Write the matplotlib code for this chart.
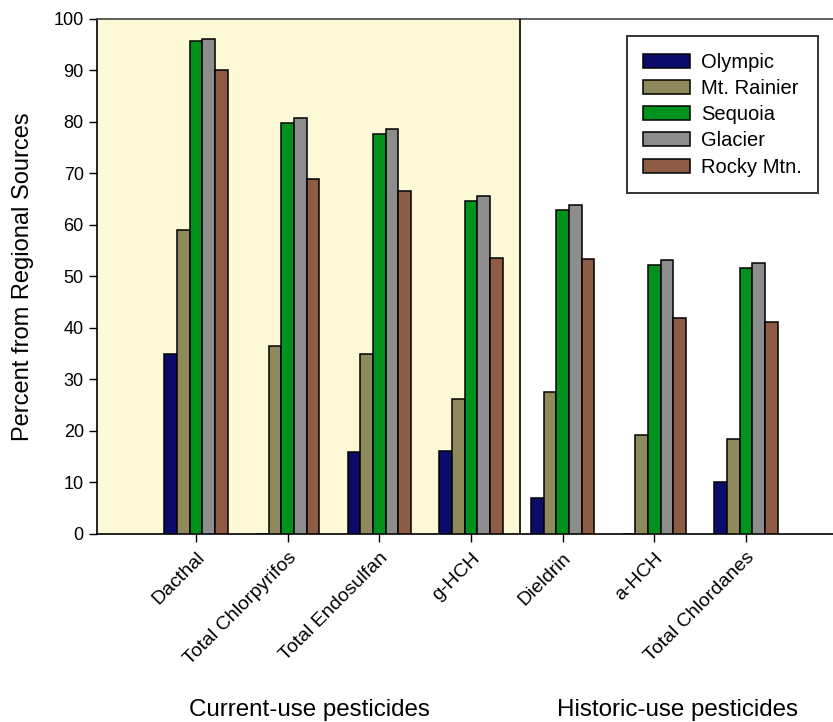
import matplotlib
matplotlib.use("Agg")
import matplotlib.pyplot as plt
import numpy as np

plt.rcParams["font.family"] = ["Liberation Sans", "DejaVu Sans"]

compounds = [
    "Dacthal",
    "Total Chlorpyrifos",
    "Total Endosulfan",
    "g-HCH",
    "Dieldrin",
    "a-HCH",
    "Total Chlordanes",
]
parks = ["Olympic", "Mt. Rainier", "Sequoia", "Glacier", "Rocky Mtn."]

olympic = [35.0, 0.0, 16.0, 16.2, 7.0, 0.0, 10.0]
mt_rainier = [59.0, 36.5, 35.0, 26.2, 27.6, 19.2, 18.5]
sequoia = [95.7, 79.8, 77.7, 64.6, 62.9, 52.2, 51.6]
glacier = [96.2, 80.7, 78.6, 65.6, 63.9, 53.2, 52.6]
rocky_mtn = [90.0, 69.0, 66.6, 53.6, 53.3, 42.0, 41.2]

group_labels = ["Current-use pesticides", "Historic-use pesticides"]
n_current = 4

colors = ["#0b0b6b", "#8f8a5b", "#00921c", "#8d8d8d", "#8e5b45"]

fig = plt.figure(figsize=(8.33, 7.22), dpi=100)
ax = fig.add_axes([0.1164, 0.2604, 0.8836, 0.7133])

x = np.arange(len(compounds))
width = 0.138
series = [olympic, mt_rainier, sequoia, glacier, rocky_mtn]
for i, (vals, name, col) in enumerate(zip(series, parks, colors)):
    ax.bar(x + (i - 2) * width, vals, width, color=col, edgecolor="black",
           linewidth=1.1, label=name, zorder=3)

left, right = -1.08, 6.95
split = n_current - 0.46
ax.axvspan(left, split, color="#fdf9d6", zorder=0)
ax.axvline(split, color="black", linewidth=1.2, zorder=4)

ax.set_xlim(left, right)
ax.set_ylim(0, 100)
ax.set_yticks(np.arange(0, 101, 10))
ax.set_xticks(x)
ax.set_xticklabels(compounds, rotation=45, ha="right", rotation_mode="anchor",
                   fontsize=14)
ax.tick_params(axis="y", labelsize=13, length=6, width=1)
ax.tick_params(axis="x", length=6, width=1, pad=5)
ax.set_ylabel("Percent from Regional Sources", fontsize=17)
ax.yaxis.set_label_coords(-0.0855, 0.5)

ax.spines["right"].set_visible(False)
for side in ["top", "left", "bottom"]:
    ax.spines[side].set_linewidth(1.2)
ax.spines["top"].set_color("#444444")

leg = ax.legend(loc="upper right", bbox_to_anchor=(0.98, 0.966), fontsize=14.5,
                frameon=True, fancybox=False, edgecolor="black",
                handlelength=2.35, handleheight=0.7, labelspacing=0.36,
                borderpad=0.8, handletextpad=0.55, borderaxespad=0)
leg.get_frame().set_linewidth(1.4)

fig.text(0.371, 0.0166, group_labels[0], ha="center", va="center", fontsize=17.4)
fig.text(0.813, 0.0166, group_labels[1], ha="center", va="center", fontsize=17.4)

fig.savefig("out.png", dpi=100)
